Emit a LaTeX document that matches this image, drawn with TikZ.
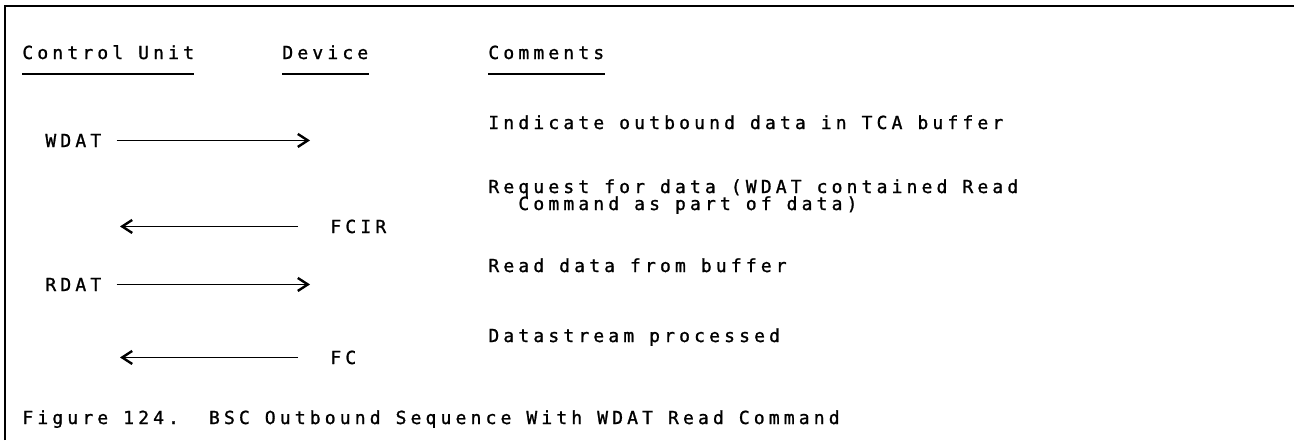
\documentclass[tikz,border=0pt]{standalone}
\usepackage{fontspec}
\setmonofont{DejaVu Sans Mono}[LetterSpace=23.1,FakeBold=1.2]
\usetikzlibrary{arrows.meta}
\tikzset{
  txt/.style={anchor=base west,inner sep=0pt,font=\ttfamily\fontsize{9pt}{10pt}\selectfont},
  ul/.style={line width=1pt},
  sig/.style={line width=0.75pt,-{Straight Barb[length=5pt,width=6.5pt,line width=1.2pt]}},
}

\begin{document}
\frenchspacing
\begin{tikzpicture}[x=0.5pt,y=-0.5pt]
  \useasboundingbox (0,0) rectangle (1294,440);
  \draw[line width=1.2pt] (5,440) -- (5,6) -- (1294,6);
  % column heads
  \node[txt] (cu) at (22,59) {Control Unit};
  \node[txt] (dev) at (282,59) {Device};
  \node[txt] (cmt) at (488,59) {Comments};
  \foreach \n in {cu,dev,cmt}
    {\draw[ul] ([yshift=-7pt]\n.south west) -- ([yshift=-7pt]\n.south east);}
  % comments
  \node[txt] (c1) at (488,129) {Indicate outbound data in TCA buffer};
  \node[txt] (c2) at (488,193) {Request for data (WDAT contained Read};
  \node[txt] (c2b) at (518,210) {Command as part of data)};
  \node[txt] (c3) at (488,272) {Read data from buffer};
  \node[txt] (c4) at (488,342) {Datastream processed};
  % sequence
  \coordinate (cux) at (120,0);
  \coordinate (devx) at (310,0);
  \node[txt] (wdat) at (45,147) {WDAT};
  \node[txt] (fcir) at (330,233) {FCIR};
  \node[txt] (rdat) at (45,291) {RDAT};
  \node[txt] (fc) at (330,364) {FC};
  \draw[sig,shorten <=7.5pt] (wdat.east) -- (wdat.east -| devx);
  \draw[sig,shorten <=16pt] (fcir.west) -- (fcir.west -| cux);
  \draw[sig,shorten <=7.5pt] (rdat.east) -- (rdat.east -| devx);
  \draw[sig,shorten <=16pt] (fc.west) -- (fc.west -| cux);
  % caption
  \node[txt] (cap) at (22,424) {Figure 124.\ \ BSC Outbound Sequence With WDAT Read Command};
\end{tikzpicture}
\end{document}
